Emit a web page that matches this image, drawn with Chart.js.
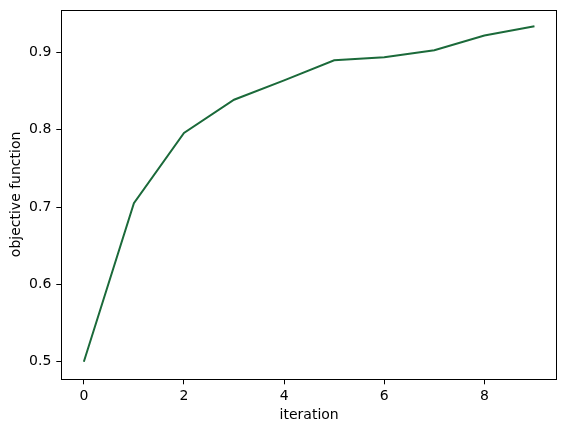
<!DOCTYPE html>
<html>
<head>
<meta charset="utf-8">
<script src="https://cdn.jsdelivr.net/npm/chart.js@4/dist/chart.umd.min.js"></script>
<style>
  html, body { margin: 0; padding: 0; background: #fff; }
  #wrap { width: 567px; height: 432px; }
</style>
</head>
<body>
<div id="wrap"><canvas id="chart" width="567" height="432"></canvas></div>
<script>
// data
const iterations = [0, 1, 2, 3, 4, 5, 6, 7, 8, 9];
const objective = [0.500, 0.705, 0.796, 0.839, 0.864, 0.890, 0.894, 0.903, 0.922, 0.934];
const xTicks = [0, 2, 4, 6, 8];
const yTicks = [0.5, 0.6, 0.7, 0.8, 0.9];

const lineColor = '#1b6a3a';
const fontFamily = '"DejaVu Sans", sans-serif';

// frame around the plot area, like matplotlib
const frame = {
    id: 'frame',
    afterDraw(chart) {
        const a = chart.chartArea;
        const ctx = chart.ctx;
        ctx.save();
        ctx.strokeStyle = '#000';
        ctx.lineWidth = 1;
        ctx.strokeRect(Math.round(a.left) + 0.5, Math.round(a.top) + 0.5,
            Math.round(a.right - a.left) - 1, Math.round(a.bottom - a.top) - 1);
        ctx.restore();
    }
};

new Chart(document.getElementById('chart').getContext('2d'), {
    type: 'line',
    data: {
        datasets: [{
            data: iterations.map((x, i) => ({ x: x, y: objective[i] })),
            borderColor: lineColor,
            borderWidth: 2,
            pointRadius: 0,
            tension: 0,
            fill: false
        }]
    },
    options: {
        responsive: false,
        animation: false,
        devicePixelRatio: 1,
        layout: { padding: { left: 0, top: 9.5, right: 10, bottom: 0 } },
        plugins: { legend: { display: false }, tooltip: { enabled: false } },
        scales: {
            x: {
                type: 'linear',
                min: -0.45,
                max: 9.45,
                afterBuildTicks: s => { s.ticks = xTicks.map(v => ({ value: v })); },
                afterFit: s => { s.height = 52.7; s.paddingLeft = 0; s.paddingRight = 0; },
                grid: { drawOnChartArea: false, drawTicks: true, tickLength: 5, color: '#000', lineWidth: 1 },
                border: { display: false },
                ticks: { color: '#000', padding: 3.5, maxRotation: 0, font: { family: fontFamily, size: 14 } },
                title: { display: true, text: 'iteration', color: '#000', padding: { top: 4, bottom: 8.5 }, font: { family: fontFamily, size: 14 } }
            },
            y: {
                type: 'linear',
                min: 0.4773,
                max: 0.9557,
                afterBuildTicks: s => { s.ticks = yTicks.map(v => ({ value: v })); },
                afterFit: s => { s.width = 61.3; s.paddingTop = 0; s.paddingBottom = 0; },
                grid: { drawOnChartArea: false, drawTicks: true, tickLength: 5, color: '#000', lineWidth: 1 },
                border: { display: false },
                ticks: { color: '#000', padding: 5, callback: v => v.toFixed(1), font: { family: fontFamily, size: 14 } },
                title: { display: true, text: 'objective function', color: '#000', padding: { top: 8, bottom: 4 }, font: { family: fontFamily, size: 14 } }
            }
        }
    },
    plugins: [frame]
});
</script>
</body>
</html>
